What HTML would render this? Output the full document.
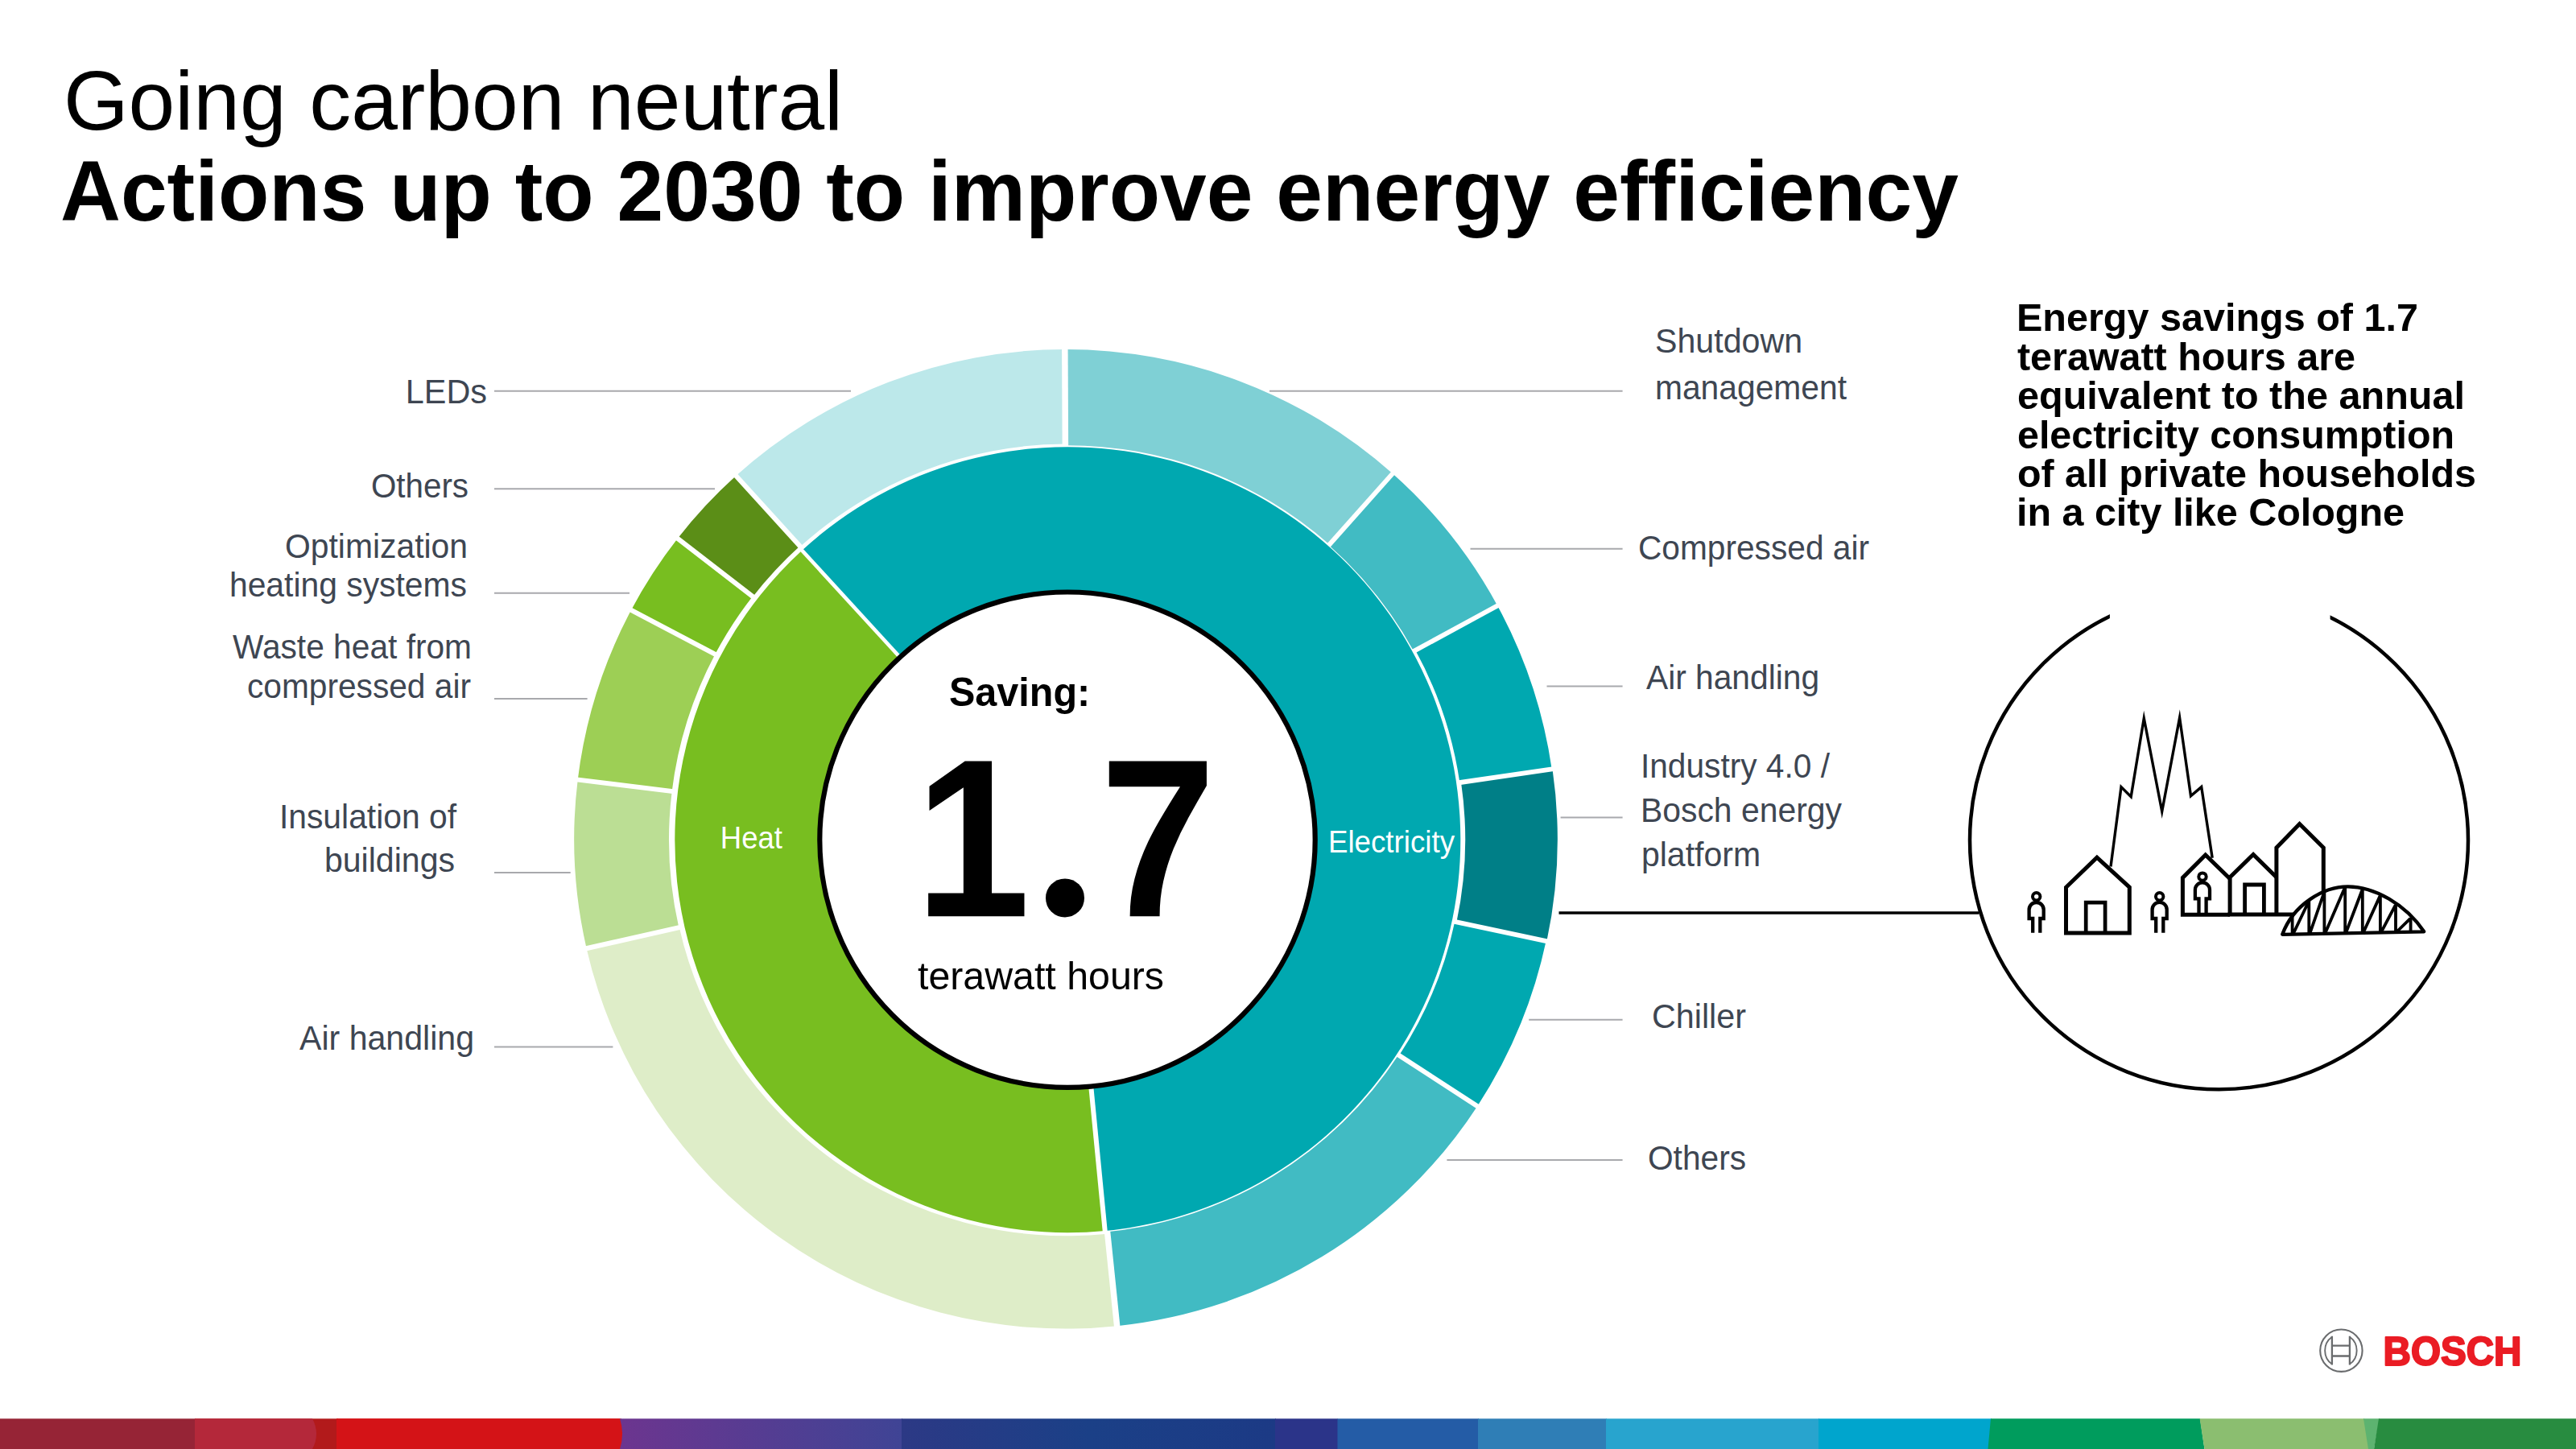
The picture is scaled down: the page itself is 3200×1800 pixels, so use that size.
<!DOCTYPE html>
<html lang="en"><head><meta charset="utf-8"><title>Going carbon neutral</title>
<style>html,body{margin:0;padding:0;background:#fff}body{width:3200px;height:1800px;overflow:hidden}svg{display:block}text{font-family:"Liberation Sans",sans-serif}</style></head><body>
<svg width="3200" height="1800" viewBox="0 0 3200 1800">
<rect width="3200" height="1800" fill="#fff"/>
<g id="chart">
<g transform="translate(0,1042.3) scale(1,0.99656) translate(0,-1042.3)">
<path d="M1322.3,431.9A610.4,610.4 0 0 1 1729.9,586.7L1651.5,675.2A491.5,491.5 0 0 0 1322.9,551.5Z" fill="#7fd0d5"/>
<path d="M1729.9,586.7A610.4,610.4 0 0 1 1860.2,751.4L1756.2,808.2A490.5,490.5 0 0 0 1650.8,675.9Z" fill="#41bbc3"/>
<path d="M1860.2,751.4A610.4,610.4 0 0 1 1927.7,955.1L1813.3,971.8A493.0,493.0 0 0 0 1758.3,807.0Z" fill="#00a8b0"/>
<path d="M1928.5,955.0A611.2,611.2 0 0 1 1921.4,1169.7L1809.4,1145.9A494.7,494.7 0 0 0 1815.0,971.6Z" fill="#007f87"/>
<path d="M1920.6,1169.5A610.4,610.4 0 0 1 1835.2,1375.3L1738.1,1312.0A492.5,492.5 0 0 0 1807.2,1145.4Z" fill="#00a8b0"/>
<path d="M1835.2,1375.3A610.4,610.4 0 0 1 1387.6,1649.3L1375.6,1531.9A491.5,491.5 0 0 0 1737.2,1311.4Z" fill="#41bbc3"/>
<path d="M1387.6,1649.3A610.4,610.4 0 0 1 728.6,1178.6L843.8,1152.4A494.0,494.0 0 0 0 1375.9,1534.4Z" fill="#deedc8"/>
<path d="M728.6,1178.6A610.4,610.4 0 0 1 717.7,968.4L834.7,982.7A494.5,494.5 0 0 0 843.3,1152.6Z" fill="#bbde94"/>
<path d="M717.7,968.4A610.4,610.4 0 0 1 784.0,756.9L888.3,812.0A494.5,494.5 0 0 0 834.7,982.7Z" fill="#9dcf55"/>
<path d="M784.0,756.9A610.4,610.4 0 0 1 841.7,667.7L934.8,739.9A494.5,494.5 0 0 0 888.3,812.0Z" fill="#78be20"/>
<path d="M841.7,667.7A610.4,610.4 0 0 1 914.3,589.5L993.7,677.0A494.0,494.0 0 0 0 935.2,740.2Z" fill="#5b8e17"/>
<path d="M914.3,589.5A610.4,610.4 0 0 1 1322.3,431.9L1322.9,549.8A493.2,493.2 0 0 0 994.2,677.6Z" fill="#bce8ea"/>
<line x1="1323.4" y1="558.0" x2="1322.8" y2="427.0" stroke="#fff" stroke-width="7.5"/>
<line x1="1647.2" y1="680.0" x2="1734.1" y2="582.0" stroke="#fff" stroke-width="5.8"/>
<line x1="1751.3" y1="810.8" x2="1866.3" y2="748.1" stroke="#fff" stroke-width="5.8"/>
<line x1="1805.4" y1="973.0" x2="1935.0" y2="954.1" stroke="#fff" stroke-width="6"/>
<line x1="1799.9" y1="1143.8" x2="1928.0" y2="1171.1" stroke="#fff" stroke-width="6"/>
<line x1="1731.8" y1="1307.9" x2="1841.5" y2="1379.4" stroke="#fff" stroke-width="6"/>
<line x1="1374.9" y1="1525.5" x2="1388.3" y2="1655.8" stroke="#fff" stroke-width="7.5"/>
<line x1="852.6" y1="1150.5" x2="724.8" y2="1179.5" stroke="#fff" stroke-width="6"/>
<line x1="844.1" y1="983.9" x2="714.1" y2="967.9" stroke="#fff" stroke-width="6"/>
<line x1="896.7" y1="816.4" x2="780.8" y2="755.2" stroke="#fff" stroke-width="6"/>
<line x1="942.3" y1="745.7" x2="838.8" y2="665.4" stroke="#fff" stroke-width="6"/>
<line x1="999.7" y1="683.7" x2="911.7" y2="586.7" stroke="#fff" stroke-width="6"/>
</g>
<path d="M996.3,683.7A488.0,488.0 0 1 1 1372.7,1529.0L1354.5,1341.9A300.0,300.0 0 1 0 1123.3,822.3Z" fill="#00a8b0"/>
<path d="M1372.7,1529.0A488.0,488.0 0 0 1 996.3,683.7L1123.3,822.3A300.0,300.0 0 0 0 1354.5,1341.9Z" fill="#78be20"/>
<line x1="1122.8" y1="821.8" x2="994.8" y2="682.1" stroke="#fff" stroke-width="4.6"/>
<line x1="1354.5" y1="1341.6" x2="1372.8" y2="1530.2" stroke="#fff" stroke-width="6"/>
<circle cx="1326" cy="1043.2" r="307.7" fill="#fff" stroke="#000" stroke-width="6.2"/>
</g>
<g stroke="#a8a9ad" stroke-width="2" fill="none">
<path d="M614,485.7H1057"/>
<path d="M614,607.2H888"/>
<path d="M614,736.8H782"/>
<path d="M614,867.9H729.6"/>
<path d="M614,1083.9H708.7"/>
<path d="M614,1300.5H761.4"/>
<path d="M1577,485.7H2015.6"/>
<path d="M1826.5,681.7H2015.6"/>
<path d="M1921.5,852.4H2015.6"/>
<path d="M1938.6,1015.5H2015.6"/>
<path d="M1899.2,1266.7H2015.6"/>
<path d="M1797.4,1440.9H2015.6"/>
</g>
<path d="M1936.5,1134H2458.5" stroke="#000" stroke-width="3.6"/>
<circle cx="2756.5" cy="1043.8" r="309.5" fill="none" stroke="#000" stroke-width="4.5"/>
<rect x="2620.9" y="720" width="273.7" height="70" fill="#fff"/>
<g id="city" fill="none" stroke="#000" stroke-linejoin="miter" stroke-miterlimit="10">
<polyline stroke-width="3.4" points="2622.0,1076.5 2635.0,977.6 2647.2,989.8 2663.3,892.3 2685.7,1008.0 2707.6,891.6 2721.5,988.8 2734.7,977.6 2748.2,1065.8"/>
<polygon stroke-width="5" points="2566.5,1159.1 2566.5,1102.2 2604.9,1065.2 2645.3,1102.2 2645.3,1159.1"/>
<polyline stroke-width="4.7" points="2591.2,1159.1 2591.2,1121.2 2615.1,1121.2 2615.1,1159.1"/>
<polyline stroke-width="5" points="2770.0,1136.2 2711.4,1136.2 2711.4,1090.4 2739.7,1061.9 2770.0,1091.5"/>
<polyline stroke-width="5" points="2770.1,1135.9 2770.1,1089.7 2799.1,1061.4 2827.9,1089.7"/>
<polyline stroke-width="5" points="2767.6,1135.9 2849.7,1135.9"/>
<polyline stroke-width="4.8" points="2788.6,1135.9 2788.6,1099.0 2812.4,1099.0 2812.4,1135.9"/>
<polyline stroke-width="5" points="2827.9,1135.9 2827.9,1053.1 2856.6,1023.5 2886.3,1053.1 2886.3,1107.6"/>
<path stroke-width="4.3" stroke-linejoin="round" d="M2835.2,1160.8C2849.0,1123.5 2886.3,1101.4 2916.6,1101.4C2949.8,1101.4 2988.4,1123.5 3011.2,1157.3Z"/>
<path stroke-width="3.8" d="M2847.6,1137.3L2847.6,1160.5M2868.3,1118.7L2868.3,1160.1M2887.4,1107.6L2887.4,1159.7M2913.2,1101.7L2913.2,1159.2M2934.8,1104.2L2934.8,1158.8M2956.9,1111.8L2956.9,1158.4M2976.0,1123.5L2976.0,1158.0M2994.6,1140.1L2994.6,1157.6M2848.5,1160.5L2868.1,1119.5M2869.2,1160.1L2887.1,1108.5M2888.2,1159.7L2912.9,1102.5M2914.0,1159.2L2934.6,1105.0M2935.7,1158.8L2956.7,1112.6M2957.8,1158.4L2975.7,1124.3M2976.8,1158.0L2994.3,1140.9"/>
<circle cx="2529.7" cy="1113.7" r="4.7" stroke-width="4"/><path stroke-width="4.3" d="M2525.2,1158.7V1141.0H2520.6V1130.0A9.05,9.05 0 0 1 2538.7,1130.0V1141.0H2534.3V1158.7"/>
<circle cx="2682.7" cy="1113.7" r="4.7" stroke-width="4"/><path stroke-width="4.3" d="M2678.2,1158.7V1141.0H2673.6V1130.0A9.05,9.05 0 0 1 2691.7,1130.0V1141.0H2687.3V1158.7"/>
<circle cx="2736.0" cy="1089.1" r="4.7" stroke-width="4"/><path stroke-width="4.3" d="M2731.5,1134.1V1116.4H2726.9V1105.4A9.05,9.05 0 0 1 2745.0,1105.4V1116.4H2740.6V1134.1"/>
</g>
<g id="bosch-anchor" fill="none" stroke="#6a6c6e">
<circle cx="2908.4" cy="1677.7" r="26.2" stroke-width="2.1"/>
<path stroke-width="1.9" d="M2896.9,1660.7A20.8,20.8 0 0 0 2896.9,1694.6M2918.9,1660.7A20.8,20.8 0 0 1 2918.9,1694.6"/>
<path stroke-width="2.3" d="M2896.9,1659.8V1695.5M2918.9,1659.8V1695.5M2896.9,1671.7H2918.9M2896.9,1684.5H2918.9"/>
</g>
<defs><linearGradient id="gp" x1="0" x2="1" y1="0" y2="0"><stop offset="0" stop-color="#6c358f"/><stop offset="1" stop-color="#3f4495"/></linearGradient><linearGradient id="gb" x1="0" x2="1" y1="0" y2="0"><stop offset="0" stop-color="#2c3985"/><stop offset="0.5" stop-color="#1b4087"/><stop offset="1" stop-color="#1c3a85"/></linearGradient></defs>
<g id="bar">
<rect x="0" y="1762.3" width="243" height="37.7" fill="#962436"/>
<rect x="242" y="1762.3" width="178" height="37.7" fill="#b21a1b"/>
<path d="M242,1762.3H388Q398,1781.2 388,1800H242Z" fill="#b4283a"/>
<rect x="418" y="1762.3" width="354" height="37.7" fill="#d41317"/>
<rect x="770" y="1762.3" width="351" height="37.7" fill="url(#gp)"/>
<path d="M418,1762.3H770Q776,1781.2 770,1800H418Z" fill="#d41317"/>
<rect x="1120" y="1762.3" width="465" height="37.7" fill="url(#gb)"/>
<rect x="1584" y="1762.3" width="78" height="37.7" fill="#2b3489"/>
<rect x="1661.5" y="1762.3" width="175.5" height="37.7" fill="#245ca6"/>
<rect x="1836" y="1762.3" width="160" height="37.7" fill="#2f7eb6"/>
<rect x="1995" y="1762.3" width="265" height="37.7" fill="#28a4ce"/>
<rect x="2259" y="1762.3" width="215" height="37.7" fill="#00a5cd"/>
<path d="M2473,1762.3H2733L2738.5,1800H2469.5Z" fill="#009c5d"/>
<path d="M2732.6,1762.3H2937L2943,1800H2738.5Z" fill="#8bbe70"/>
<path d="M2936,1762.3H2956L2949,1800H2942Z" fill="#5db370"/>
<path d="M2955,1762.3H3200V1800H2949Z" fill="#288c40"/>
</g>
<text id="t0" x="78.93" y="160.6" font-size="104" font-weight="400" fill="#000" textLength="968.17" lengthAdjust="spacingAndGlyphs">Going carbon neutral</text>
<text id="t1" x="74.99" y="273.5" font-size="106" font-weight="700" fill="#000" textLength="2358.01" lengthAdjust="spacingAndGlyphs">Actions up to 2030 to improve energy efficiency</text>
<text id="t2" x="503.83" y="501.2" font-size="42" font-weight="400" fill="#3e4652" textLength="101.23" lengthAdjust="spacingAndGlyphs">LEDs</text>
<text id="t3" x="460.96" y="618.0" font-size="42" font-weight="400" fill="#3e4652" textLength="121.08" lengthAdjust="spacingAndGlyphs">Others</text>
<text id="t4" x="353.97" y="693.0" font-size="42" font-weight="400" fill="#3e4652" textLength="227.08" lengthAdjust="spacingAndGlyphs">Optimization</text>
<text id="t5" x="284.95" y="741.1" font-size="42" font-weight="400" fill="#3e4652" textLength="295.07" lengthAdjust="spacingAndGlyphs">heating systems</text>
<text id="t6" x="288.99" y="818.4" font-size="42" font-weight="400" fill="#3e4652" textLength="297.05" lengthAdjust="spacingAndGlyphs">Waste heat from</text>
<text id="t7" x="306.98" y="867.3" font-size="42" font-weight="400" fill="#3e4652" textLength="278.02" lengthAdjust="spacingAndGlyphs">compressed air</text>
<text id="t8" x="346.94" y="1029.0" font-size="42" font-weight="400" fill="#3e4652" textLength="220.05" lengthAdjust="spacingAndGlyphs">Insulation of</text>
<text id="t9" x="402.94" y="1083.4" font-size="42" font-weight="400" fill="#3e4652" textLength="162.11" lengthAdjust="spacingAndGlyphs">buildings</text>
<text id="t10" x="371.99" y="1303.8" font-size="42" font-weight="400" fill="#3e4652" textLength="217.05" lengthAdjust="spacingAndGlyphs">Air handling</text>
<text id="t11" x="2055.92" y="437.8" font-size="42" font-weight="400" fill="#3e4652" textLength="183.19" lengthAdjust="spacingAndGlyphs">Shutdown</text>
<text id="t12" x="2055.97" y="495.5" font-size="42" font-weight="400" fill="#3e4652" textLength="238.04" lengthAdjust="spacingAndGlyphs">management</text>
<text id="t13" x="2034.98" y="694.5" font-size="42" font-weight="400" fill="#3e4652" textLength="287.03" lengthAdjust="spacingAndGlyphs">Compressed air</text>
<text id="t14" x="2044.99" y="855.8" font-size="42" font-weight="400" fill="#3e4652" textLength="215.06" lengthAdjust="spacingAndGlyphs">Air handling</text>
<text id="t15" x="2037.93" y="966.3" font-size="42" font-weight="400" fill="#3e4652" textLength="235.08" lengthAdjust="spacingAndGlyphs">Industry 4.0 /</text>
<text id="t16" x="2037.93" y="1021.1" font-size="42" font-weight="400" fill="#3e4652" textLength="250.07" lengthAdjust="spacingAndGlyphs">Bosch energy</text>
<text id="t17" x="2038.90" y="1076.3" font-size="42" font-weight="400" fill="#3e4652" textLength="148.19" lengthAdjust="spacingAndGlyphs">platform</text>
<text id="t18" x="2051.95" y="1277.4" font-size="42" font-weight="400" fill="#3e4652" textLength="117.07" lengthAdjust="spacingAndGlyphs">Chiller</text>
<text id="t19" x="2046.94" y="1452.8" font-size="42" font-weight="400" fill="#3e4652" textLength="122.12" lengthAdjust="spacingAndGlyphs">Others</text>
<text id="t20" x="894.87" y="1053.7" font-size="38" font-weight="400" fill="#fff" textLength="77.13" lengthAdjust="spacingAndGlyphs">Heat</text>
<text id="t21" x="1649.94" y="1059.2" font-size="38" font-weight="400" fill="#fff" textLength="157.06" lengthAdjust="spacingAndGlyphs">Electricity</text>
<text id="t22" x="1178.94" y="876.6" font-size="50" font-weight="700" fill="#000" textLength="175.24" lengthAdjust="spacingAndGlyphs">Saving:</text>
<text id="t23" y="1138.2" font-size="280" font-weight="700" fill="#000"><tspan x="1137" textLength="142.6" lengthAdjust="spacingAndGlyphs">1</tspan><tspan x="1286" dy="-3" font-family="Liberation Serif,serif" font-size="296">.</tspan><tspan x="1366.7" dy="3" textLength="143.6" lengthAdjust="spacingAndGlyphs">7</tspan></text>
<text id="t24" x="1139.99" y="1228.6" font-size="48" font-weight="400" fill="#000" textLength="306.02" lengthAdjust="spacingAndGlyphs">terawatt hours</text>
<text id="t25" x="2504.95" y="411.1" font-size="48" font-weight="700" fill="#000" textLength="499.07" lengthAdjust="spacingAndGlyphs">Energy savings of 1.7</text>
<text id="t26" x="2505.99" y="459.5" font-size="48" font-weight="700" fill="#000" textLength="420.02" lengthAdjust="spacingAndGlyphs">terawatt hours are</text>
<text id="t27" x="2505.99" y="507.6" font-size="48" font-weight="700" fill="#000" textLength="556.05" lengthAdjust="spacingAndGlyphs">equivalent to the annual</text>
<text id="t28" x="2505.99" y="556.5" font-size="48" font-weight="700" fill="#000" textLength="543.03" lengthAdjust="spacingAndGlyphs">electricity consumption</text>
<text id="t29" x="2505.99" y="604.9" font-size="48" font-weight="700" fill="#000" textLength="570.02" lengthAdjust="spacingAndGlyphs">of all private households</text>
<text id="t30" x="2504.96" y="653.0" font-size="48" font-weight="700" fill="#000" textLength="482.06" lengthAdjust="spacingAndGlyphs">in a city like Cologne</text>
<text id="t31" x="2960.51" y="1695.5" font-size="49.5" font-weight="700" fill="#ea1c24" textLength="171.99" lengthAdjust="spacingAndGlyphs" stroke="#ea1c24" stroke-width="2.2" stroke-linejoin="round">BOSCH</text>
</svg></body></html>
